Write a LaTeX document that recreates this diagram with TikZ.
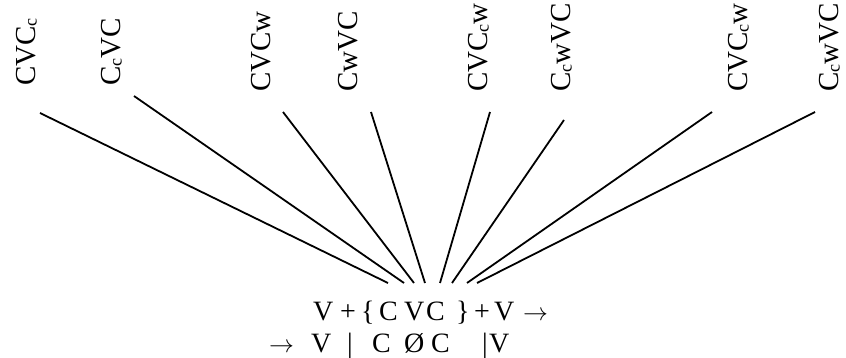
\documentclass[tikz,border=0pt]{standalone}
\usepackage{fontspec}
\setmainfont{Liberation Serif}
\newcommand\glat[2]{\rlap{\hspace{#1pt}#2}}
\newcommand\sbc{\raisebox{-0.06em}{\fontsize{18}{18}\selectfont c}}
\begin{document}
\begin{tikzpicture}[x=1pt,y=-1pt,
  lab/.style={rotate=90,anchor=base west,inner sep=0pt,font=\fontsize{29}{34}\selectfont},
  formula/.style={anchor=base west,inner sep=0pt,font=\fontsize{28}{33}\selectfont},
  conn/.style={line width=1.8pt}]
\useasboundingbox (0,0) rectangle (846,358);
% labels
\node[lab] (l1) at (35,86) {CVC\sbc};
\node[lab] (l2) at (120,86) {C\sbc VC};
\node[lab] (l3) at (270,92) {CVCw};
\node[lab] (l4) at (357,92) {CwVC};
\node[lab] (l5) at (487,92) {CVC\sbc w};
\node[lab] (l6) at (570,92) {C\sbc wVC};
\node[lab] (l7) at (747,92) {CVC\sbc w};
\node[lab] (l8) at (838,92) {C\sbc wVC};
% formula
\node[formula] (f1) at (313,320) {\glat{0}{V}\glat{27}{+}\glat{48}{\{}\glat{66}{C}\glat{91}{V}\glat{113}{C}\glat{143}{\}}\glat{161}{+}\glat{181}{V}\glat{210}{$\rightarrow$}\phantom{V + \{ C V C \} + V →}};
\node[formula] (f2) at (270,352) {\glat{-1}{$\rightarrow$}\glat{41}{V}\glat{77}{|}\glat{102}{C}\glat{134}{Ø}\glat{161}{C}\glat{212}{|}\glat{219}{V}\phantom{→ V | C Ø C |V}};
% connector ends
\coordinate (t1) at (40,113);  \coordinate (b1) at (388,283);
\coordinate (t2) at (134,96);  \coordinate (b2) at (404,283);
\coordinate (t3) at (283,112); \coordinate (b3) at (414,283);
\coordinate (t4) at (371,112); \coordinate (b4) at (425,283);
\coordinate (t5) at (490,112); \coordinate (b5) at (440,283);
\coordinate (t6) at (564,120); \coordinate (b6) at (452,283);
\coordinate (t7) at (712,112); \coordinate (b7) at (467,283);
\coordinate (t8) at (815,112); \coordinate (b8) at (477,283);
\foreach \i in {1,...,8} \draw[conn] (t\i) -- (b\i);
\end{tikzpicture}
\end{document}
